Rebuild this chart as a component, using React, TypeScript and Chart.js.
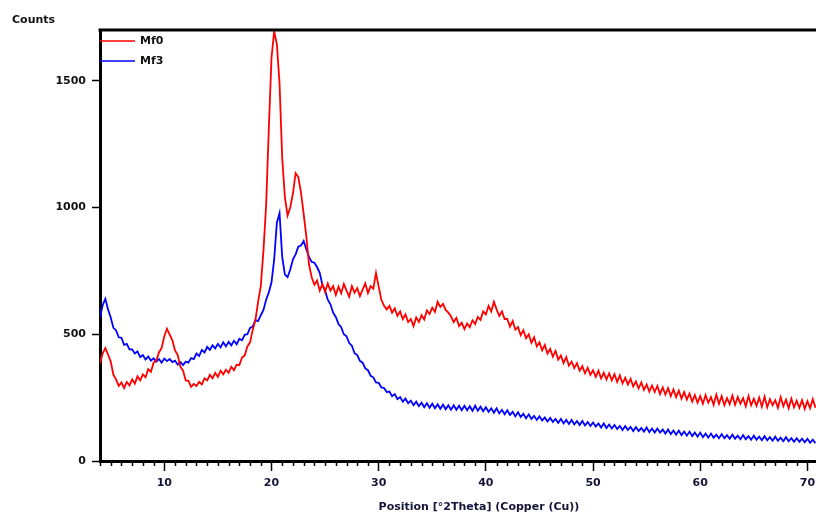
import React, { useEffect, useRef } from "react";
import { Chart, registerables } from "chart.js";

Chart.register(...registerables);

// ---------- data ----------
const SERIES_NAMES = ["Mf0", "Mf3"];
const SERIES_COLORS = ["#ff0000", "#0000ff"];
const X_TITLE = "Position [°2Theta] (Copper (Cu))";
const Y_TITLE = "Counts";
const TWO_THETA_START = 4;
const TWO_THETA_STEP = 0.25;
const X_MIN = 4;
const X_MAX = 70.8;
const Y_MIN = 0;
const Y_MAX = 1700;
const X_TICKS = [10, 20, 30, 40, 50, 60, 70];
const Y_TICKS = [0, 500, 1000, 1500];
const X_MINOR_STEP = 1;

// one row per degree (.00, .25, .50, .75)
const MF0_COUNTS = [
  385, 425, 445, 420,
  392, 340, 322, 296,
  310, 288, 312, 298,
  322, 305, 334, 318,
  342, 330, 362, 352,
  388, 396, 428, 446,
  492, 522, 498, 476,
  436, 418, 372, 356,
  318, 316, 292, 304,
  296, 312, 302, 326,
  318, 340, 326, 348,
  332, 356, 342, 360,
  348, 372, 358, 380,
  378, 408, 416, 452,
  468, 518, 556, 628,
  690, 830, 1010, 1310,
  1590, 1695, 1645, 1490,
  1195, 1040, 968, 1000,
  1055, 1135, 1120, 1060,
  975, 885, 775, 725,
  695, 712, 672, 698,
  668, 700, 672, 690,
  655, 688, 662, 698,
  672, 648, 690, 664,
  682, 650, 676, 700,
  662, 690, 680, 742,
  688, 636, 612, 598,
  612, 585, 602, 572,
  590, 560, 578, 548,
  560, 532, 566, 548,
  575, 558, 594, 580,
  605, 588, 628, 608,
  620, 596, 585, 570,
  548, 565, 532, 545,
  520, 542, 528, 555,
  540, 568, 556, 590,
  578, 612, 590, 628,
  598, 572, 590, 560,
  560, 530, 552, 518,
  528, 496, 516, 484,
  500, 466, 488, 452,
  468, 436, 458, 424,
  442, 412, 434, 400,
  416, 386, 410, 376,
  392, 366, 386, 356,
  374, 346, 368, 340,
  358, 332, 356, 326,
  348, 322, 346, 318,
  342, 312, 338, 306,
  328, 302, 324, 294,
  314, 286, 310, 280,
  302, 274, 298, 272,
  296, 264, 290, 262,
  288, 256, 282, 252,
  278, 246, 272, 242,
  266, 234, 260, 230,
  256, 226, 260, 230,
  252, 222, 262, 226,
  256, 220, 248, 224,
  258, 222, 252, 226,
  248, 216, 256, 220,
  246, 218, 250, 214,
  254, 212, 244, 220,
  240, 210, 252, 216,
  242, 208, 246, 212,
  238, 210, 240, 206,
  236, 208, 244, 210,
];

const MF3_COUNTS = [
  565, 615, 640, 598,
  566, 525, 515, 488,
  486, 458, 462, 440,
  440, 424, 432, 410,
  418, 400, 412, 396,
  405, 392, 402, 388,
  404, 394, 402, 390,
  396, 380, 390, 378,
  392, 388, 406, 402,
  424, 414, 438, 428,
  450, 438, 456, 444,
  462, 448, 468, 452,
  470, 456, 474, 460,
  482, 476, 498, 500,
  525, 530, 556, 552,
  575, 596, 636, 665,
  705, 795, 940, 978,
  805, 735, 725, 755,
  795, 815, 845, 850,
  868, 835, 805, 785,
  782, 765, 742, 695,
  672, 636, 618, 585,
  568, 540, 528, 500,
  492, 465, 455, 425,
  418, 395, 388, 365,
  358, 336, 330, 310,
  308, 290, 288, 272,
  274, 256, 264, 244,
  252, 234, 246, 228,
  238, 220, 234, 216,
  230, 212, 228, 210,
  226, 208, 224, 206,
  222, 204, 220, 202,
  220, 202, 218, 200,
  218, 200, 216, 198,
  218, 198, 214, 196,
  212, 194, 208, 190,
  208, 188, 202, 184,
  200, 182, 194, 176,
  192, 174, 186, 168,
  184, 166, 178, 162,
  176, 160, 172, 156,
  170, 154, 166, 150,
  166, 148, 162, 146,
  162, 144, 158, 142,
  158, 140, 154, 138,
  152, 136, 148, 132,
  148, 130, 144, 128,
  142, 126, 138, 122,
  138, 122, 134, 118,
  134, 118, 130, 116,
  132, 114, 128, 112,
  128, 112, 124, 108,
  124, 106, 120, 104,
  120, 102, 116, 100,
  116, 98, 112, 96,
  112, 94, 108, 92,
  108, 92, 104, 90,
  106, 90, 102, 88,
  104, 88, 100, 86,
  102, 86, 98, 84,
  100, 84, 96, 82,
  98, 82, 94, 80,
  96, 80, 92, 78,
  94, 78, 90, 76,
  90, 76, 88, 74,
  88, 72, 84, 70,
];

const FONT_FAMILY = '"DejaVu Sans", Verdana, sans-serif';

function toPoints(counts: number[]) {
  return counts.map((y, i) => ({ x: TWO_THETA_START + i * TWO_THETA_STEP, y }));
}

const decorPlugin = {
  id: "xrdDecor",
  afterDraw(chart: any) {
    const { ctx, chartArea, scales } = chart;
    const xs = scales.x;
    ctx.save();
    // top border
    ctx.strokeStyle = "#000";
    ctx.lineWidth = 3;
    ctx.beginPath();
    ctx.moveTo(chartArea.left - 1.5, chartArea.top);
    ctx.lineTo(chartArea.right, chartArea.top);
    ctx.stroke();
    // minor ticks
    ctx.lineWidth = 1.5;
    for (let v = Math.ceil(xs.min); v <= xs.max; v += X_MINOR_STEP) {
      if (X_TICKS.includes(v)) continue;
      const px = Math.round(xs.getPixelForValue(v)) + 0.5;
      ctx.beginPath();
      ctx.moveTo(px, chartArea.bottom);
      ctx.lineTo(px, chartArea.bottom + 5);
      ctx.stroke();
    }
    // legend
    ctx.font = `bold 11px ${FONT_FAMILY}`;
    ctx.textBaseline = "middle";
    ctx.textAlign = "left";
    SERIES_NAMES.forEach((name, i) => {
      const y = chartArea.top + 11 + i * 20;
      ctx.strokeStyle = SERIES_COLORS[i];
      ctx.lineWidth = 1.5;
      ctx.beginPath();
      ctx.moveTo(chartArea.left, y);
      ctx.lineTo(chartArea.left + 35, y);
      ctx.stroke();
      ctx.fillStyle = "#111";
      ctx.fillText(name, chartArea.left + 40, y);
    });
    // axis titles
    ctx.fillStyle = "#111";
    ctx.fillText(Y_TITLE, 12, 20);
    ctx.textAlign = "center";
    ctx.fillStyle = "#141438";
    ctx.fillText(X_TITLE, 479, 507);
    ctx.restore();
  },
};

export default function App() {
  const canvasRef = useRef<HTMLCanvasElement | null>(null);

  useEffect(() => {
    document.body.style.margin = "0";
    const canvas = canvasRef.current;
    if (!canvas) return;
    const chart = new Chart(canvas, {
      type: "line",
      data: {
        datasets: [
          {
            label: SERIES_NAMES[0],
            data: toPoints(MF0_COUNTS),
            borderColor: SERIES_COLORS[0],
            borderWidth: 1.8,
            pointRadius: 0,
            tension: 0,
          },
          {
            label: SERIES_NAMES[1],
            data: toPoints(MF3_COUNTS),
            borderColor: SERIES_COLORS[1],
            borderWidth: 1.8,
            pointRadius: 0,
            tension: 0,
          },
        ],
      },
      options: {
        animation: false,
        responsive: false,
        maintainAspectRatio: false,
        layout: { padding: { top: 30, left: 0, right: 0, bottom: 0 } },
        plugins: {
          legend: { display: false },
          tooltip: { enabled: false },
          title: { display: false },
        },
        scales: {
          x: {
            type: "linear",
            min: X_MIN,
            max: X_MAX,
            afterBuildTicks: (scale: any) => {
              scale.ticks = X_TICKS.map((v) => ({ value: v }));
            },
            afterFit: (scale: any) => {
              scale.height = 56;
              scale.paddingLeft = 0;
              scale.paddingRight = 0;
            },
            border: { display: true, color: "#000", width: 3 },
            grid: {
              drawOnChartArea: false,
              drawTicks: true,
              tickLength: 10,
              tickColor: "#000",
              tickWidth: 1.5,
            },
            ticks: {
              autoSkip: false,
              maxRotation: 0,
              padding: 6,
              color: "#141438",
              font: { family: FONT_FAMILY, size: 11, weight: "bold" },
              callback: (v: any) => String(v),
            },
          },
          y: {
            type: "linear",
            min: Y_MIN,
            max: Y_MAX,
            afterBuildTicks: (scale: any) => {
              scale.ticks = Y_TICKS.map((v) => ({ value: v }));
            },
            afterFit: (scale: any) => {
              scale.width = 100;
              scale.paddingTop = 0;
              scale.paddingBottom = 0;
            },
            border: { display: true, color: "#000", width: 3 },
            grid: {
              drawOnChartArea: false,
              drawTicks: true,
              tickLength: 8,
              tickColor: "#000",
              tickWidth: 1.5,
            },
            ticks: {
              padding: 6,
              color: "#111",
              font: { family: FONT_FAMILY, size: 11, weight: "bold" },
              callback: (v: any) => String(v),
            },
          },
        },
      },
      plugins: [decorPlugin],
    });
    return () => chart.destroy();
  }, []);

  return (
    <div style={{ width: 816, height: 517, position: "relative", background: "#fff" }}>
      <canvas ref={canvasRef} width={816} height={517} style={{ display: "block" }} />
    </div>
  );
}
